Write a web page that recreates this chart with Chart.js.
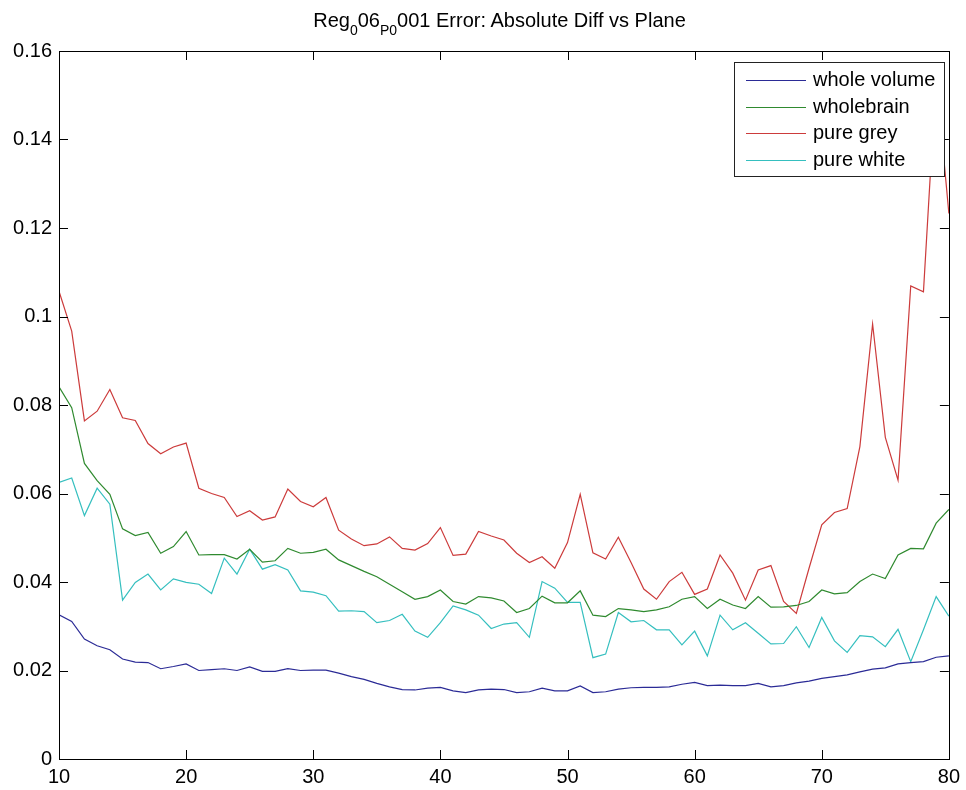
<!DOCTYPE html>
<html>
<head>
<meta charset="utf-8">
<script src="https://cdn.jsdelivr.net/npm/chart.js@4.4.1/dist/chart.umd.min.js"></script>
<style>
  body { margin: 0; background: #fff; }
  #wrap { position: relative; width: 966px; height: 790px; }
  #title {
    position: absolute; left: 53px; width: 893px; top: 9px;
    text-align: center; color: #000; line-height: 24px;
    font: 20px "Liberation Sans", Arial, sans-serif;
  }
  #title sub { font-size: 14px; vertical-align: -8px; line-height: 0; }
</style>
</head>
<body>
<div id="wrap">
  <canvas id="chart" width="966" height="790"></canvas>
  <div id="title">Reg<sub>0</sub>06<sub>P0</sub>001 Error: Absolute Diff vs Plane</div>
</div>
<script>
const xValues = [10, 11, 12, 13, 14, 15, 16, 17, 18, 19, 20, 21, 22, 23, 24, 25, 26, 27, 28, 29,
  30, 31, 32, 33, 34, 35, 36, 37, 38, 39, 40, 41, 42, 43, 44, 45, 46, 47, 48, 49,
  50, 51, 52, 53, 54, 55, 56, 57, 58, 59, 60, 61, 62, 63, 64, 65, 66, 67, 68, 69,
  70, 71, 72, 73, 74, 75, 76, 77, 78, 79, 80];

const wholeVolume = [0.0326, 0.0311, 0.0271, 0.0256, 0.0247, 0.0226, 0.0219, 0.0218, 0.0204, 0.0209,
  0.0215, 0.0200, 0.0202, 0.0204, 0.0200, 0.0208, 0.0198, 0.0198, 0.0204, 0.0200,
  0.0201, 0.0201, 0.0194, 0.0186, 0.0180, 0.0171, 0.0163, 0.0157, 0.0156, 0.0160,
  0.0162, 0.0154, 0.0150, 0.0156, 0.0158, 0.0157, 0.0150, 0.0152, 0.0160, 0.0154,
  0.0154, 0.0165, 0.0150, 0.0152, 0.0158, 0.0161, 0.0162, 0.0162, 0.0163, 0.0169,
  0.0173, 0.0166, 0.0167, 0.0166, 0.0166, 0.0171, 0.0163, 0.0166, 0.0172, 0.0176,
  0.0182, 0.0186, 0.0190, 0.0197, 0.0203, 0.0206, 0.0215, 0.0218, 0.0220, 0.0230, 0.0233];

const wholebrain = [0.0841, 0.0794, 0.0668, 0.0629, 0.0598, 0.0520, 0.0505, 0.0512, 0.0465, 0.0480,
  0.0514, 0.0461, 0.0462, 0.0462, 0.0452, 0.0474, 0.0445, 0.0448, 0.0476, 0.0465,
  0.0467, 0.0474, 0.0450, 0.0437, 0.0424, 0.0412, 0.0395, 0.0378, 0.0361, 0.0367,
  0.0382, 0.0356, 0.0350, 0.0367, 0.0364, 0.0357, 0.0331, 0.0340, 0.0368, 0.0353,
  0.0353, 0.0380, 0.0325, 0.0322, 0.0340, 0.0337, 0.0333, 0.0337, 0.0344, 0.0361,
  0.0367, 0.0340, 0.0361, 0.0348, 0.0340, 0.0367, 0.0343, 0.0344, 0.0347, 0.0356,
  0.0382, 0.0373, 0.0376, 0.0401, 0.0418, 0.0408, 0.0461, 0.0476, 0.0475, 0.0533, 0.0564];

const pureGrey = [0.1057, 0.0967, 0.0764, 0.0786, 0.0835, 0.0771, 0.0765, 0.0713, 0.0690, 0.0705,
  0.0714, 0.0612, 0.0600, 0.0591, 0.0548, 0.0561, 0.0540, 0.0547, 0.0610, 0.0582,
  0.0570, 0.0591, 0.0517, 0.0497, 0.0482, 0.0486, 0.0502, 0.0476, 0.0472, 0.0487,
  0.0523, 0.0460, 0.0463, 0.0514, 0.0504, 0.0495, 0.0465, 0.0444, 0.0457, 0.0431,
  0.0489, 0.0598, 0.0466, 0.0452, 0.0501, 0.0444, 0.0384, 0.0361, 0.0401, 0.0422,
  0.0372, 0.0384, 0.0461, 0.0420, 0.0359, 0.0427, 0.0437, 0.0356, 0.0329, 0.0431,
  0.0529, 0.0557, 0.0566, 0.0706, 0.0983, 0.0727, 0.0630, 0.1069, 0.1056, 0.1545, 0.1233];

const pureWhite = [0.0625, 0.0635, 0.0550, 0.0612, 0.0576, 0.0359, 0.0399, 0.0418, 0.0382, 0.0407,
  0.0399, 0.0395, 0.0374, 0.0454, 0.0418, 0.0474, 0.0429, 0.0439, 0.0427, 0.0380,
  0.0377, 0.0369, 0.0334, 0.0335, 0.0333, 0.0308, 0.0313, 0.0327, 0.0289, 0.0275,
  0.0308, 0.0346, 0.0337, 0.0325, 0.0295, 0.0305, 0.0308, 0.0275, 0.0401, 0.0386,
  0.0354, 0.0354, 0.0229, 0.0237, 0.0331, 0.0310, 0.0313, 0.0292, 0.0292, 0.0258,
  0.0289, 0.0233, 0.0325, 0.0292, 0.0308, 0.0284, 0.0260, 0.0261, 0.0299, 0.0252,
  0.0320, 0.0267, 0.0241, 0.0279, 0.0276, 0.0254, 0.0293, 0.0220, 0.0292, 0.0367, 0.0323];

const seriesNames = ['whole volume', 'wholebrain', 'pure grey', 'pure white'];
const seriesColors = ['#2b2b96', '#2f8a2f', '#cc3b3b', '#35bfbf'];
const seriesValues = [wholeVolume, wholebrain, pureGrey, pureWhite];

const FONT = '"Liberation Sans", Arial, sans-serif';

function toPoints(vals) {
  return xValues.map((x, i) => { return { x: x, y: vals[i] } });
}

// matlab style box: frame, inward ticks on all four sides, boxed legend
const matlabBox = {
  id: 'matlabBox',
  afterDatasetsDraw(chart) {
    const ctx = chart.ctx;
    const a = chart.chartArea;
    const sx = chart.scales.x, sy = chart.scales.y;
    const tl = 9;
    ctx.save();
    ctx.strokeStyle = '#000';
    ctx.lineWidth = 1;
    ctx.beginPath();
    sx.ticks.forEach(t => {
      const px = Math.round(sx.getPixelForValue(t.value)) + 0.5;
      ctx.moveTo(px, a.bottom); ctx.lineTo(px, a.bottom - tl);
      ctx.moveTo(px, a.top); ctx.lineTo(px, a.top + tl);
    });
    sy.ticks.forEach(t => {
      const py = Math.round(sy.getPixelForValue(t.value)) + 0.5;
      ctx.moveTo(a.left, py); ctx.lineTo(a.left + tl, py);
      ctx.moveTo(a.right, py); ctx.lineTo(a.right - tl, py);
    });
    ctx.stroke();
    ctx.strokeRect(Math.round(a.left) + 0.5, Math.round(a.top) + 0.5,
      Math.round(a.right - a.left), Math.round(a.bottom - a.top));

    // legend
    const lx = 734, ly = 62, lw = 210, lh = 114;
    ctx.fillStyle = '#fff';
    ctx.fillRect(lx, ly, lw, lh);
    ctx.strokeStyle = '#222';
    ctx.strokeRect(lx + 0.5, ly + 0.5, lw, lh);
    ctx.font = '20px ' + FONT;
    ctx.textBaseline = 'middle';
    ctx.textAlign = 'left';
    chart.data.datasets.forEach((ds, i) => {
      const ry = Math.round(ly + 18 + i * 26.7) + 0.5;
      ctx.strokeStyle = ds.borderColor;
      ctx.lineWidth = 1.2;
      ctx.beginPath();
      ctx.moveTo(746, ry); ctx.lineTo(806, ry);
      ctx.stroke();
      ctx.fillStyle = '#000';
      ctx.fillText(ds.label, 813, ry);
    });
    ctx.restore();
  }
};

new Chart(document.getElementById('chart').getContext('2d'), {
  type: 'line',
  data: {
    datasets: seriesNames.map((name, i) => {
      return {
        label: name,
        data: toPoints(seriesValues[i]),
        borderColor: seriesColors[i],
        borderWidth: 1.2,
        pointRadius: 0,
        tension: 0,
        fill: false
      }
    })
  },
  options: {
    responsive: false,
    animation: false,
    devicePixelRatio: 1,
    layout: { padding: { top: 51, right: 14, left: 0, bottom: 0 } },
    plugins: { legend: { display: false }, tooltip: { enabled: false } },
    scales: {
      x: {
        type: 'linear', min: 10, max: 80,
        afterFit: s => { s.height = 31 },
        grid: { display: false, drawTicks: false },
        border: { display: false },
        ticks: { stepSize: 10, padding: 6, color: '#000', font: { family: FONT, size: 20 }, maxRotation: 0 }
      },
      y: {
        min: 0, max: 0.16,
        afterFit: s => { s.width = 59 },
        grid: { display: false, drawTicks: false },
        border: { display: false },
        ticks: {
          stepSize: 0.02, padding: 7, color: '#000', font: { family: FONT, size: 20 },
          callback: v => String(+v.toFixed(2))
        }
      }
    }
  },
  plugins: [matlabBox]
});
</script>
</body>
</html>
